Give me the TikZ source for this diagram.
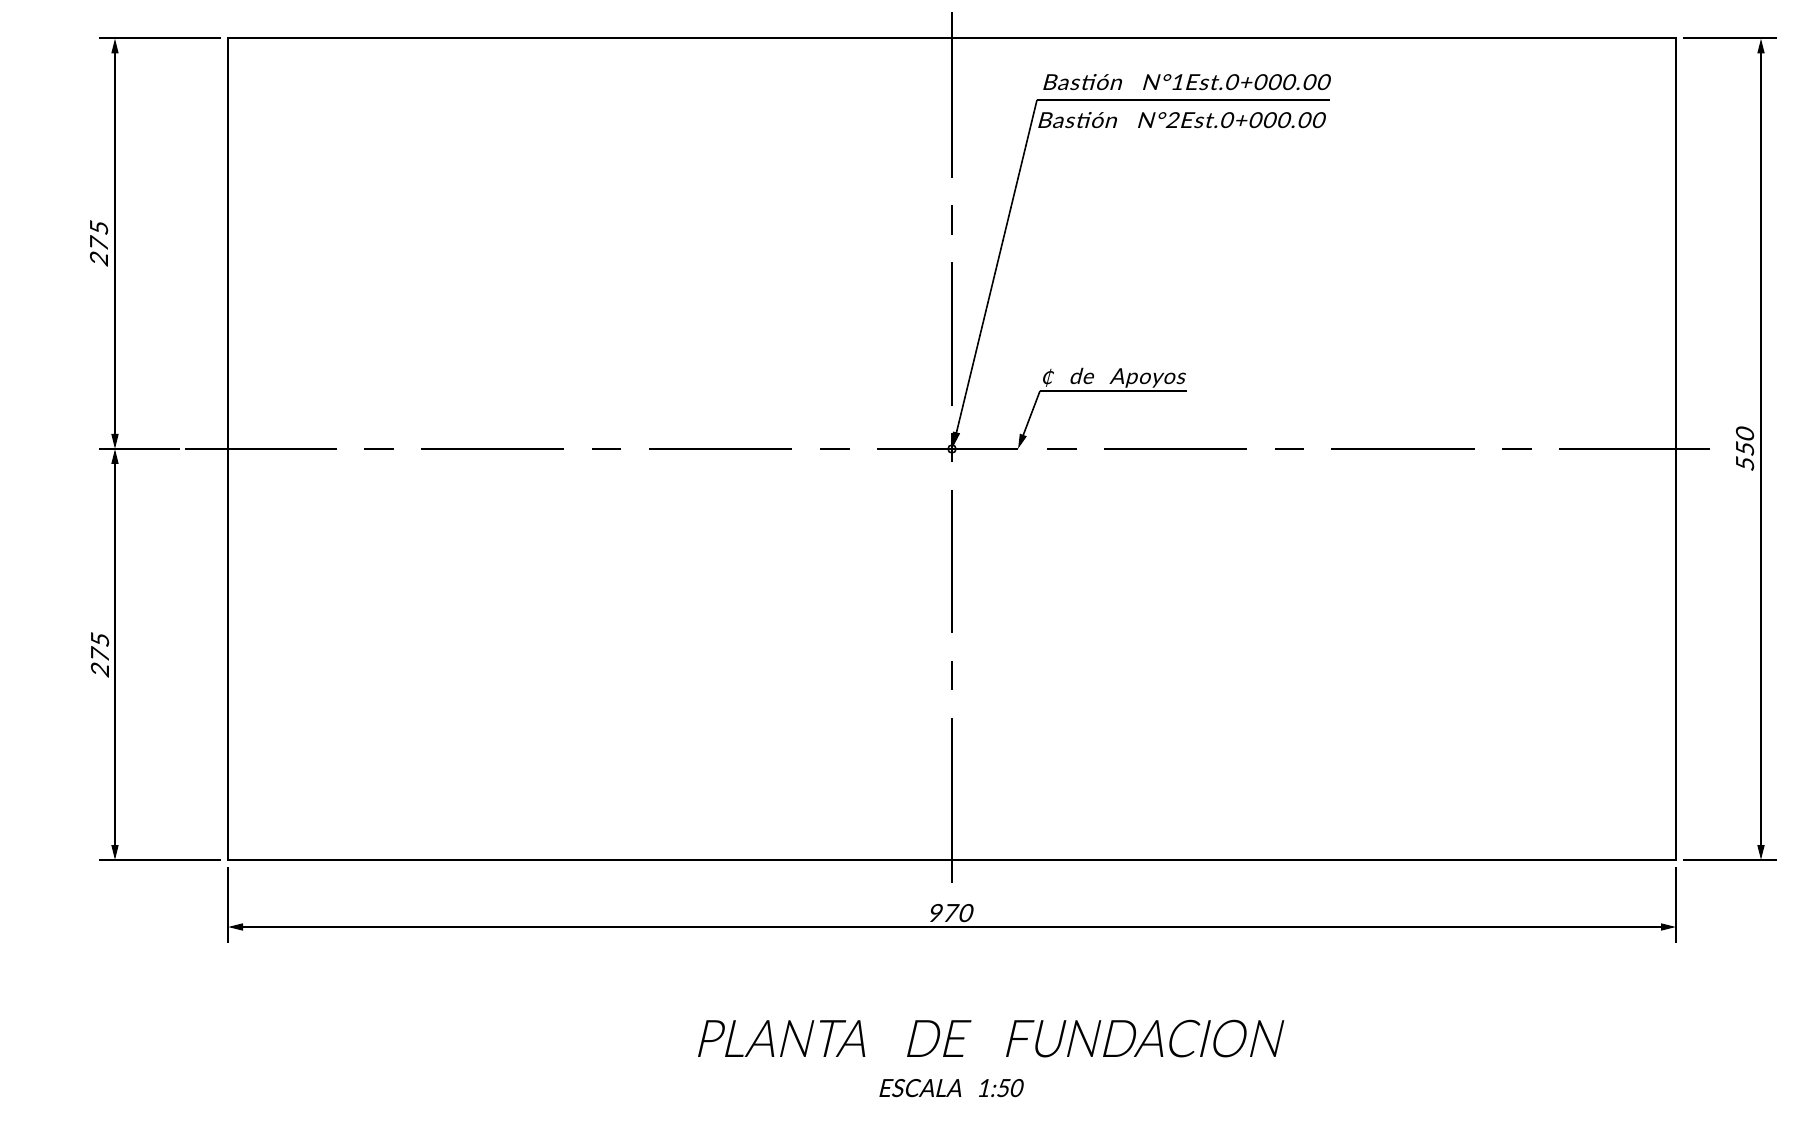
\documentclass[tikz,border=0pt]{standalone}
\usepackage{fontspec}
\usetikzlibrary{arrows.meta}
\newfontfamily\cad[UprightFont=* Light,FakeSlant=0.26]{Lato}
\newfontfamily\cadr[FakeSlant=0.26,LetterSpace=3]{Lato}
\newfontfamily\cadn[FakeSlant=0.26]{Lato}
\newfontfamily\cadsym[FakeSlant=0.26]{DejaVu Sans}
\tikzset{
  line/.style={line width=1pt,black},
  thin line/.style={line width=0.8pt,black},
  tip/.style={-{Triangle[length=7.5pt,width=3.5pt]},line width=0.8pt,shorten >=0pt},
  tips/.style={{Triangle[length=7.5pt,width=3.5pt]}-{Triangle[length=7.5pt,width=3.5pt]},line width=0.8pt},
  label/.style={inner sep=0pt,outer sep=0pt,font=\cadr\fontsize{11}{11}\selectfont},
  dimlabel/.style={inner sep=0pt,outer sep=0pt,font=\cadr\fontsize{12.5}{12.5}\selectfont},
  center line/.style={line width=1pt,black}
}
\begin{document}
\begin{tikzpicture}[x=0.5pt,y=-0.5pt]
\useasboundingbox (0,0) rectangle (1799,1128);
% main rectangle
\coordinate (tl) at (228,38.5);
\coordinate (tr) at (1676,38.5);
\coordinate (br) at (1676,860);
\coordinate (bl) at (228,860);
\coordinate (c) at (952,449);
\draw[line] (tl) -- (tr) -- (br) -- (bl) -- cycle;
% extension lines
\coordinate (e1a) at (99,38.5); \coordinate (e1b) at (221,38.5);
\coordinate (e2a) at (99,860); \coordinate (e2b) at (221,860);
\coordinate (e3a) at (1683,38.5); \coordinate (e3b) at (1777,38.5);
\coordinate (e4a) at (1683,860); \coordinate (e4b) at (1777,860);
\coordinate (e5a) at (228,867); \coordinate (e5b) at (228,943);
\coordinate (e6a) at (1676,867); \coordinate (e6b) at (1676,943);
\draw[line] (e1a)--(e1b); \draw[line] (e2a)--(e2b); \draw[line] (e3a)--(e3b); \draw[line] (e4a)--(e4b);
\draw[line] (e5a)--(e5b); \draw[line] (e6a)--(e6b);
% horizontal centre line
\foreach \a/\b in {99/180,185/337,364/394,421/564,592/621,649/792,820/850,877/1018,1047/1077,1104/1247,1275/1304,1331/1475,1502/1532,1559/1710}
  \draw[center line] (\a,449) -- (\b,449);
% vertical centre line
\foreach \a/\b in {12/178,205/235,262/406,433/462,490/633,661/690,717.5/883}
  \draw[center line] (952,\a) -- (952,\b);
\draw[line width=0.8pt] (c) circle (4);
% dimensions
\coordinate (d1) at (115,38.5); \coordinate (d2) at (115,449); \coordinate (d3) at (115,860);
\coordinate (d4) at (1761,38.5); \coordinate (d5) at (1761,860);
\coordinate (d6) at (228,927); \coordinate (d7) at (1676,927);
\draw[tips] (d1) -- (d2);
\draw[tips] (d2) -- (d3);
\draw[tips] (d4) -- (d5);
\draw[tips] (d6) -- (d7);
\node[dimlabel,rotate=90] (n275a) at (100,246) {275};
\node[dimlabel,rotate=90] (n275b) at (101,657) {275};
\node[dimlabel,rotate=90] (n550) at (1746,451) {550};
\node[dimlabel] (n970) at (949,914) {970};
% leaders
\coordinate (l1) at (1037,100); \coordinate (l1e) at (1330,100);
\coordinate (l1t) at (953,447);
\coordinate (l2) at (1040,391); \coordinate (l2e) at (1187,391);
\coordinate (l2t) at (1018,449);
\draw[thin line] (l1e) -- (l1);
\draw[tip] (l1) -- (l1t);
\draw[thin line] (l2e) -- (l2);
\draw[tip] (l2) -- (l2t);
\node[label,anchor=base west,xscale=1.06] (b1) at (1041,91) {Bastión\hspace{9pt}N°1Est.0+000.00};
\node[label,anchor=base west,xscale=1.06] (b2) at (1036,129) {Bastión\hspace{9pt}N°2Est.0+000.00};
\node[label,anchor=base west] (ap) at (1040,385) {{\cadsym\fontsize{10}{10}\selectfont ₵}\hspace{8pt}de\hspace{8pt}Apoyos};
% titles
\node[inner sep=0pt,anchor=base west,xscale=0.907,font=\cad\fontsize{26}{26}\selectfont] (title) at (693,1057) {PLANTA\hspace{20pt}DE\hspace{20pt}FUNDACION};
\node[inner sep=0pt,anchor=base west,xscale=0.92,font=\cadn\fontsize{12.5}{12.5}\selectfont] (scale) at (877,1097) {ESCALA\hspace{8pt}1:50};
\end{tikzpicture}
\end{document}
